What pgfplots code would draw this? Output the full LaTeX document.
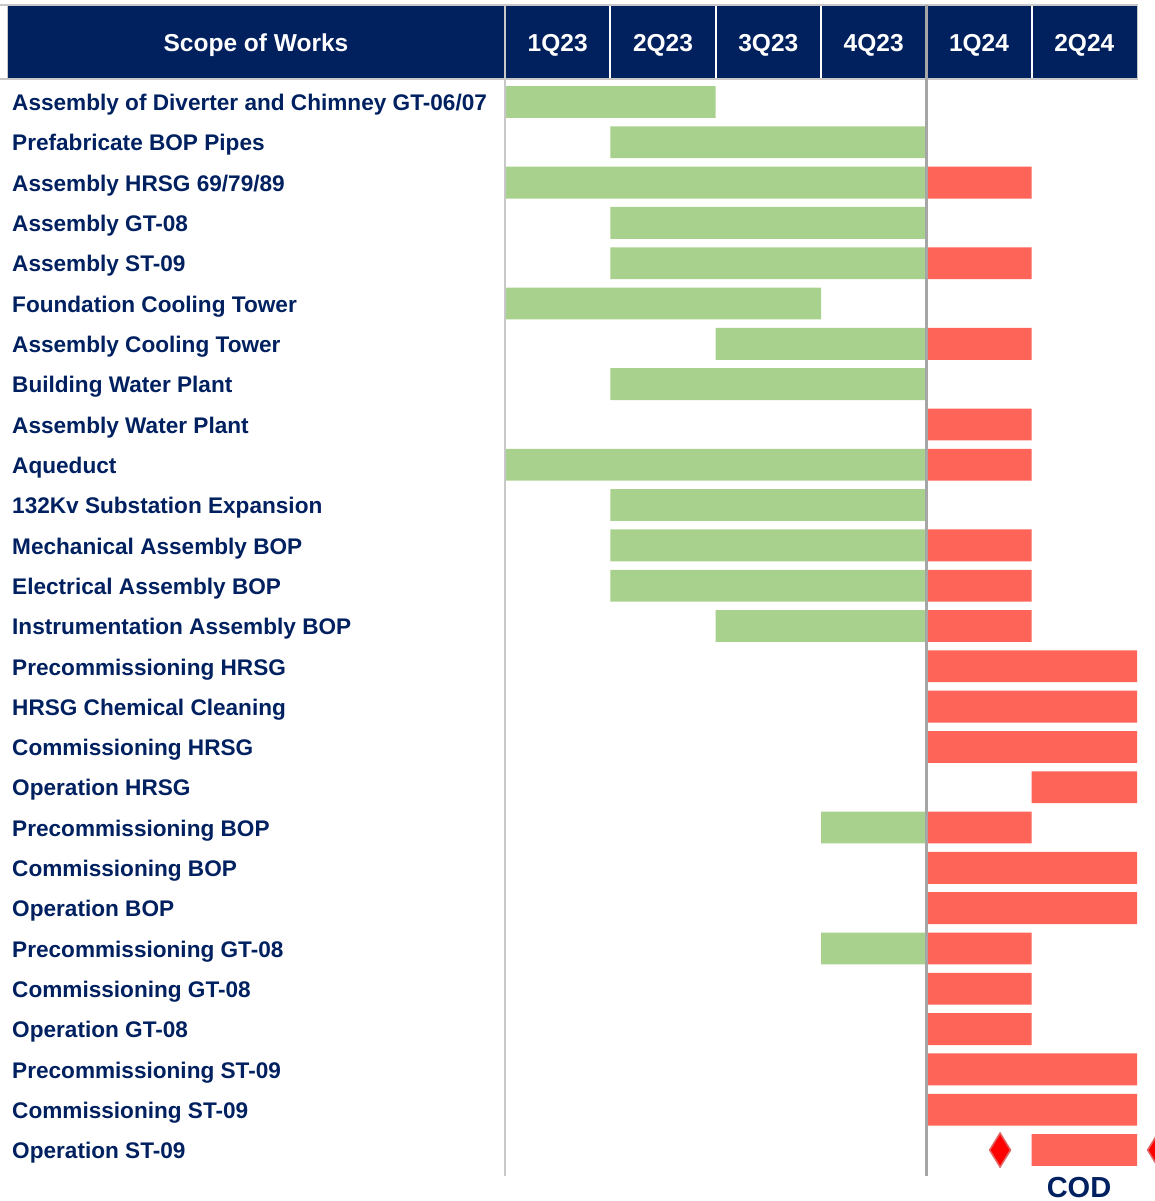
\documentclass[border=0pt]{standalone}
\usepackage{pgfplots}
\pgfplotsset{compat=1.18}
\usepackage{pgfplotstable}
\usepackage{fontspec}
\setmainfont{Liberation Sans}
\definecolor{navy}{HTML}{002060}
\definecolor{hdr}{HTML}{00205E}
\definecolor{gbar}{HTML}{A9D18E}
\definecolor{rbar}{HTML}{FF6459}
\definecolor{lgray}{HTML}{C8C8C8}
\definecolor{dgray}{HTML}{A6A6A6}
\definecolor{dred}{HTML}{E06666}

\pgfplotstableread{
row start green red
1 0 2 0
2 1 3 0
3 0 4 1
4 1 3 0
5 1 3 1
6 0 3 0
7 2 2 1
8 1 3 0
9 4 0 1
10 0 4 1
11 1 3 0
12 1 3 1
13 1 3 1
14 2 2 1
15 4 0 2
16 4 0 2
17 4 0 2
18 5 0 1
19 3 1 1
20 4 0 2
21 4 0 2
22 3 1 1
23 4 0 1
24 4 0 1
25 4 0 2
26 4 0 2
27 5 0 1
}\gantt

\pgfplotstableread{
x y
4.7 27
6.2 27
}\milestones

\pgfplotsset{
  ganttbase/.style={
    at={(505pt,-1176pt)}, anchor=south west,
    scale only axis, width=632pt, height=1097pt,
    xmin=0, xmax=6, ymin=0.43, ymax=27.645, y dir=reverse,
    axis line style={draw=none}, tick style={draw=none},
    clip=false,
  }
}

\begin{document}
\begin{tikzpicture}
\useasboundingbox (0pt,0pt) rectangle (1155pt,-1201pt);
% header band
\fill[hdr] (8pt,-6pt) rectangle (1137pt,-78pt);
\draw[lgray, line width=2pt] (0pt,-5pt) -- (1138pt,-5pt);
\draw[lgray, line width=2pt] (0pt,-79pt) -- (1138pt,-79pt);
\draw[lgray, line width=1.5pt] (7.5pt,-5pt) -- (7.5pt,-79pt);
\draw[lgray, line width=1.5pt] (1137.5pt,-5pt) -- (1137.5pt,-79pt);
\foreach \xx in {610.3,715.7,821.0,1031.7}{
  \draw[white, line width=2pt] (\xx pt,-6pt) -- (\xx pt,-78pt);
}
\node[anchor=base, text=white, font=\fontsize{24.5pt}{28pt}\selectfont\bfseries] at (256pt,-52pt) {Scope of Works};

\begin{axis}[ganttbase,
  xbar stacked, bar width=0.79,
  xtick={0.5,1.5,2.5,3.5,4.5,5.5},
  xticklabels={1Q23,2Q23,3Q23,4Q23,1Q24,2Q24},
  xticklabel pos=upper,
  xticklabel style={anchor=base, yshift=27pt, text=white, inner sep=0pt,
    font=\fontsize{24.5pt}{28pt}\selectfont\bfseries},
  ytick={1,...,27},
  yticklabels={
    Assembly of Diverter and Chimney GT-06/07,
    Prefabricate BOP Pipes,
    Assembly HRSG 69/79/89,
    Assembly GT-08,
    Assembly ST-09,
    Foundation Cooling Tower,
    Assembly Cooling Tower,
    Building Water Plant,
    Assembly Water Plant,
    Aqueduct,
    132Kv Substation Expansion,
    Mechanical Assembly BOP,
    Electrical Assembly BOP,
    Instrumentation Assembly BOP,
    Precommissioning HRSG,
    HRSG Chemical Cleaning,
    Commissioning HRSG,
    Operation HRSG,
    Precommissioning BOP,
    Commissioning BOP,
    Operation BOP,
    Precommissioning GT-08,
    Commissioning GT-08,
    Operation GT-08,
    Precommissioning ST-09,
    Commissioning ST-09,
    Operation ST-09},
  yticklabel style={anchor=base west, xshift=-493pt, yshift=-8.7pt, inner sep=0pt,
    text=navy, font=\fontsize{22.6pt}{26pt}\selectfont\bfseries},
]
\addplot[draw=none, fill=none] table[x=start, y=row] {\gantt};
\addplot[draw=none, fill=gbar] table[x=green, y=row] {\gantt};
\addplot[draw=none, fill=rbar] table[x=red, y=row] {\gantt};
\end{axis}

\begin{axis}[ganttbase, xtick=\empty, ytick=\empty]
\addplot[only marks, mark=diamond*, mark size=17pt,
  mark options={fill=red, draw=dred, line width=1.5pt, xscale=0.82}]
  table[x=x, y=y] {\milestones};
\end{axis}

% vertical rules
\draw[lgray, line width=2pt] (505pt,-5pt) -- (505pt,-1176pt);
\draw[dgray, line width=3.5pt] (926.3pt,-5pt) -- (926.3pt,-1176pt);

\node[anchor=base, inner sep=0pt, text=navy, font=\fontsize{29pt}{31pt}\selectfont\bfseries] at (1079pt,-1197.5pt) {COD};
\end{tikzpicture}
\end{document}
